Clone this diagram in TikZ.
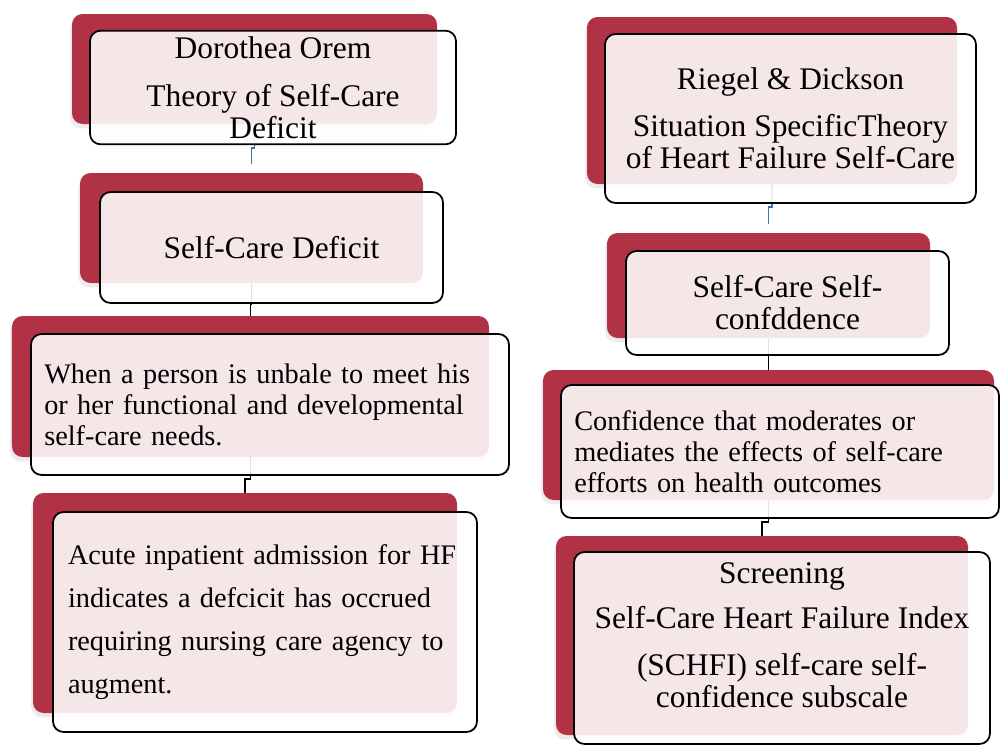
\documentclass[tikz,border=0pt]{standalone}
\usepackage{fontspec}
\setmainfont{Liberation Serif}
\usetikzlibrary{shadows}
\definecolor{cardred}{RGB}{177,50,68}
\definecolor{linkblue}{RGB}{68,110,165}
\pgfdeclarelayer{plates}
\pgfdeclarelayer{links}
\pgfsetlayers{plates,links,main}

\begin{document}
\begin{tikzpicture}[
  back/.style={rectangle, rounded corners=6pt, fill=cardred,
    drop shadow={shadow xshift=-1pt, shadow yshift=-2.5pt, opacity=0.15}},
  front/.style={rectangle, rounded corners=6pt, draw, line width=1pt,
    fill=white, fill opacity=0.88, text opacity=1},
  head/.style={front, align=center, font=\fontsize{17.9pt}{18.2pt}\selectfont},
  body/.style={front, align=left, inner xsep=7.5pt, font=\fontsize{16.1pt}{17.6pt}\selectfont},
  link/.style={line width=0.9pt},
  bluelink/.style={link, draw=linkblue, shorten >=5pt}
]
\useasboundingbox (0,0) rectangle (20,-14.92);

% cards
\node[head, minimum width=7.32cm, minimum height=2.22cm] (orem) at (5.46,-1.75)
  {Dorothea Orem\\[9pt]Theory of Self-Care\\Deficit};
\node[head, minimum width=6.86cm, minimum height=2.22cm] (deficit) at (5.43,-4.95)
  {Self-Care Deficit};
\node[body, minimum width=9.56cm, minimum height=2.82cm, text width=9.03cm] (unable) at (5.40,-8.09)
  {When a person is unbale to meet his\\or her functional and developmental\\self-care needs.};
\node[body, minimum width=8.48cm, minimum height=4.40cm, inner xsep=8.5pt, text width=7.88cm,
  font=\fontsize{16.1pt}{24.5pt}\selectfont] (acute) at (5.30,-12.44)
  {Acute inpatient admission for HF\\indicates a defcicit has occrued\\requiring nursing care agency to\\augment.};
\node[head, minimum width=7.42cm, minimum height=3.38cm] (riegel) at (15.81,-2.37)
  {Riegel \& Dickson\\[8.5pt]Situation SpecificTheory\\of Heart Failure Self-Care};
\node[head, minimum width=6.46cm, minimum height=2.08cm] (conf) at (15.75,-6.06)
  {Self-Care Self-\\confddence};
\node[body, minimum width=8.76cm, minimum height=2.66cm, text width=8.23cm] (effect) at (15.60,-9.03)
  {Confidence that moderates or\\mediates the effects of self-care\\efforts on health outcomes};
\node[head, minimum width=8.32cm, minimum height=3.84cm] (screen) at (15.64,-12.96)
  {Screening\\[7.4pt]Self-Care Heart Failure Index\\[8.5pt](SCHFI) self-care self-\\confidence subscale\rule[-15pt]{0pt}{0pt}};

% red plates behind the cards
\begin{pgfonlayer}{plates}
\node[back, minimum width=7.30cm, minimum height=2.20cm] (oremb)    at (5.09,-1.38)  {};
\node[back, minimum width=6.86cm, minimum height=2.20cm] (deficitb) at (5.03,-4.56)  {};
\node[back, minimum width=9.54cm, minimum height=2.82cm] (unableb)  at (5.01,-7.73)  {};
\node[back, minimum width=8.48cm, minimum height=4.40cm] (acuteb)   at (4.90,-12.06) {};
\node[back, minimum width=7.40cm, minimum height=3.34cm] (riegelb)  at (15.44,-2.01) {};
\node[back, minimum width=6.46cm, minimum height=2.10cm] (confb)    at (15.37,-5.71) {};
\node[back, minimum width=9.02cm, minimum height=2.60cm] (effectb)  at (15.37,-8.70) {};
\node[back, minimum width=8.24cm, minimum height=3.98cm] (screenb)  at (15.24,-12.71) {};
\end{pgfonlayer}

% connectors
\begin{pgfonlayer}{links}
\draw[bluelink] (oremb.south) -- (oremb.south |- orem.south) -- ++(0,-0.06) -| (deficitb.north);
\draw[link] (deficitb.south) -- (deficitb.south |- deficit.south) -| (unableb.north);
\draw[link] (unableb.south) -- (unableb.south |- unable.south) -- ++(0,-0.06) -| (acuteb.north);
\draw[bluelink] (riegelb.south) -- (riegelb.south |- riegel.south) -- ++(0,-0.06) -| (confb.north);
\draw[link] (confb.south) -- (confb.south |- conf.south) -| (effectb.north);
\draw[link] (effectb.south) -- (effectb.south |- effect.south) -- ++(0,-0.06) -| (screenb.north);
\end{pgfonlayer}
\end{tikzpicture}
\end{document}
